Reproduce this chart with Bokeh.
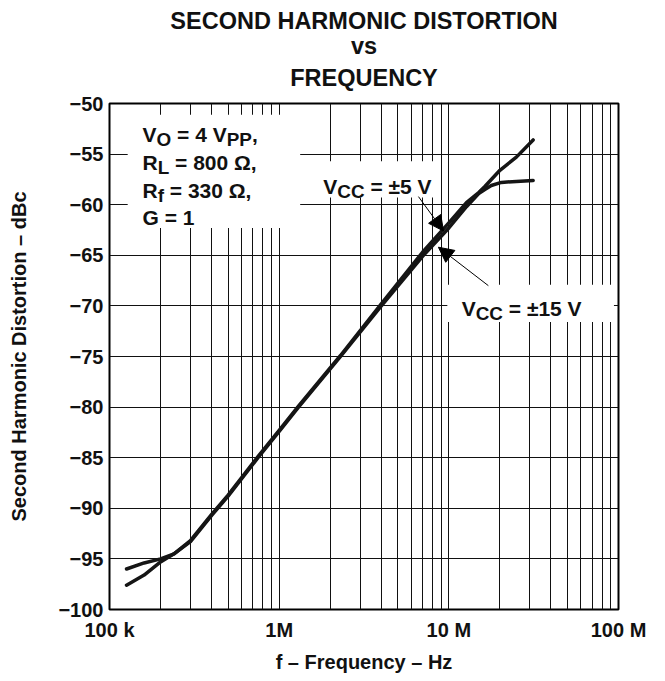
from bokeh.plotting import figure
from bokeh.models import (Range1d, FixedTicker, BoxAnnotation, Label, Arrow, NormalHead, Title)
from bokeh.embed import file_html
from bokeh.resources import INLINE

# ---------------- data ----------------
freq_a = [1.26e5, 1.6e5, 2.0e5, 2.4e5, 3.0e5, 4.0e5, 5.0e5, 7.5e5, 1.0e6, 1.3e6,
          2.3e6, 4.0e6, 7.0e6, 1.0e7, 1.27e7, 1.5e7, 1.63e7, 1.78e7, 2.04e7, 2.5e7, 3.14e7]
dbc_a = [-96.0, -95.4, -95.0, -94.5, -93.3, -90.7, -88.8, -85.0, -82.4, -80.0,
         -75.0, -70.0, -65.1, -62.3, -60.2, -58.9, -58.5, -58.1, -57.8, -57.7, -57.6]

freq_b = [1.26e5, 1.6e5, 2.0e5, 2.4e5, 3.0e5, 4.0e5, 5.0e5, 7.5e5, 1.0e6, 1.3e6,
          2.3e6, 4.0e6, 7.0e6, 1.0e7, 1.27e7, 1.5e7, 1.63e7, 2.0e7, 2.5e7, 3.14e7]
dbc_b = [-97.6, -96.6, -95.3, -94.5, -93.2, -90.6, -88.7, -84.9, -82.3, -79.9,
         -74.9, -69.8, -64.7, -61.8, -59.8, -58.8, -58.2, -56.6, -55.3, -53.6]

x_ticks = [1e5, 1e6, 1e7, 1e8]
x_tick_labels = ["100 k", "1M", "10 M", "100 M"]
y_ticks = list(range(-100, -45, 5))
y_tick_labels = ["\u2212%d" % (-v) for v in y_ticks]
title_lines = ["SECOND HARMONIC DISTORTION", "vs", "FREQUENCY"]

FONT = "Liberation Sans"
INK = "#111111"

p = figure(frame_width=509, frame_height=506, x_axis_type="log",
           x_range=Range1d(1e5, 1e8), y_range=Range1d(-100, -50),
           output_backend="svg", toolbar_location=None,
           min_border_left=109, min_border_right=31,
           min_border_top=98, min_border_bottom=61)

# title: three centred lines, added from the frame outwards
for txt, so in zip(reversed(title_lines), [26, -18, 11]):
    p.add_layout(Title(text=txt, align="center", text_font=FONT, text_font_style="bold",
                       text_font_size="23.5px", text_color=INK, standoff=so), "above")

# grid
minor = [k * 10 ** e for e in (5, 6, 7) for k in range(1, 10)] + [1e8]
p.xgrid.ticker = FixedTicker(ticks=minor)
p.ygrid.ticker = FixedTicker(ticks=y_ticks)
for g in (p.xgrid, p.ygrid):
    g.grid_line_color = INK
    g.grid_line_width = 1
    g.grid_line_alpha = 1.0

p.outline_line_color = "black"
p.outline_line_width = 2
p.background_fill_color = "white"

# axes
p.xaxis.ticker = FixedTicker(ticks=x_ticks)
p.xaxis.major_label_overrides = {int(t): s for t, s in zip(x_ticks, x_tick_labels)}
p.yaxis.ticker = FixedTicker(ticks=y_ticks)
p.yaxis.major_label_overrides = {t: s for t, s in zip(y_ticks, y_tick_labels)}
for ax in (p.xaxis, p.yaxis):
    ax.axis_line_color = None
    ax.major_tick_line_color = None
    ax.minor_tick_line_color = None
    ax.major_tick_out = 0
    ax.major_tick_in = 0
    ax.major_label_text_font = FONT
    ax.major_label_text_font_style = "bold"
    ax.major_label_text_font_size = "20px"
    ax.major_label_text_color = INK
    ax.axis_label_text_font = FONT
    ax.axis_label_text_font_style = "bold"
    ax.axis_label_text_font_size = "20px"
    ax.axis_label_text_color = INK
p.xaxis.major_label_standoff = 9
p.yaxis.major_label_standoff = 6
p.xaxis.axis_label = "f \u2013 Frequency \u2013 Hz"
p.yaxis.axis_label = "Second Harmonic Distortion \u2013 dBc"
p.xaxis.axis_label_standoff = 7
p.yaxis.axis_label_standoff = 25

# curves
p.line(freq_a, dbc_a, line_width=3.5, line_color="#151515", line_join="round", line_cap="round")
p.line(freq_b, dbc_b, line_width=3.5, line_color="#151515", line_join="round", line_cap="round")

# white boxes behind annotation texts
for l, r, t, b in [(1.28e5, 1.33e6, -51.1, -62.3),
                   (1.35e6, 8.9e6, -55.7, -59.3),
                   (9.8e6, 9.4e7, -67.9, -71.6)]:
    p.add_layout(BoxAnnotation(left=l, right=r, top=t, bottom=b,
                               fill_color="white", fill_alpha=1.0, line_color=None))

# rich text helper (Arial/Liberation bold advance widths, per em)
W = {' ': .278, ',': .278, '=': .584, '\u00b1': .584, '\u03a9': .768, 'C': .722, 'G': .778,
     'L': .611, 'O': .778, 'P': .667, 'R': .722, 'V': .667, 'f': .333}
for d in "0123456789":
    W[d] = .556


def rich(x, y, parts, size=21, sub=0.9, drop=5):
    off = 0.0
    for text, is_sub in parts:
        fs = size * sub if is_sub else size
        stripped = text.lstrip(" ")
        off += (len(text) - len(stripped)) * W[' '] * fs
        p.add_layout(Label(x=x, y=y, x_offset=off, y_offset=-drop if is_sub else 0,
                           text=stripped, text_font=FONT, text_font_style="bold",
                           text_font_size="%.1fpx" % fs, text_color=INK,
                           text_baseline="alphabetic", text_align="left"))
        off += sum(W.get(c, .6) for c in stripped) * fs


rich(1.565e5, -53.1, [("V", 0), ("O", 1), (" = 4 V", 0), ("PP", 1), (",", 0)])
rich(1.565e5, -55.85, [("R", 0), ("L", 1), (" = 800 \u03a9,", 0)])
rich(1.565e5, -58.55, [("R", 0), ("f", 1), (" = 330 \u03a9,", 0)])
rich(1.565e5, -61.3, [("G = 1", 0)])
rich(1.82e6, -58.2, [("V", 0), ("CC", 1), (" = \u00b15 V", 0)])
rich(1.19e7, -70.3, [("V", 0), ("CC", 1), (" = \u00b115 V", 0)])

# arrows
for xs, ys, xe, ye in [(6.62e6, -59.2, 9.3e6, -62.6), (1.71e7, -68.0, 8.68e6, -64.2)]:
    p.add_layout(Arrow(end=NormalHead(size=15, fill_color="black", line_color="black"),
                       x_start=xs, y_start=ys, x_end=xe, y_end=ye,
                       line_width=1, line_color="black"))

open("out.html", "w").write(file_html(p, INLINE))
